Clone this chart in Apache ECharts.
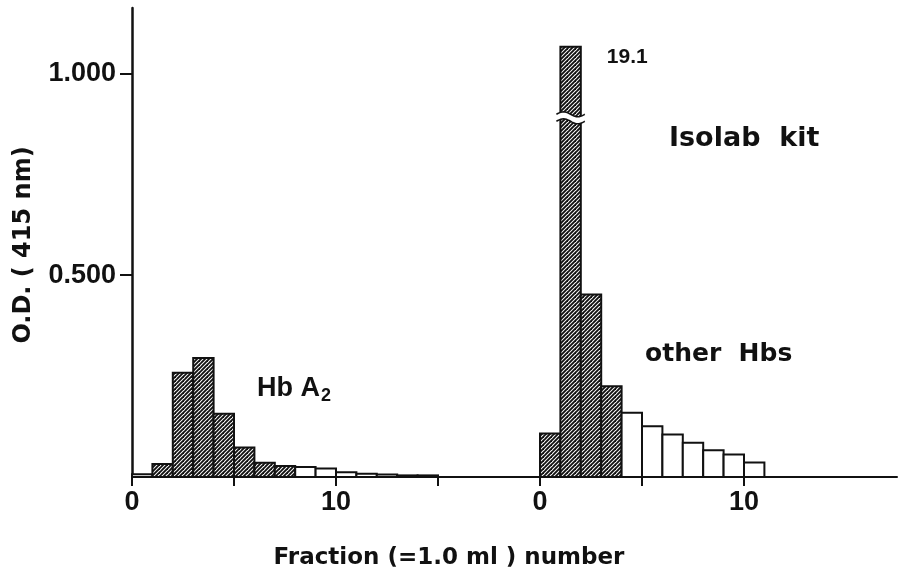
<!DOCTYPE html>
<html>
<head>
<meta charset="utf-8">
<title>Isolab kit fractions</title>
<script src="https://cdn.jsdelivr.net/npm/echarts@6/dist/echarts.min.js"></script>
<style>
  html, body { margin: 0; padding: 0; background: #fff; }
  #chart { width: 898px; height: 577px; }
</style>
</head>
<body>
<div id="chart"></div>
<script>
// O.D. (415 nm) of each 1.0 ml fraction
var hbA2Values  = [0.007, 0.032, 0.258, 0.295, 0.157, 0.073, 0.035, 0.027, 0.025, 0.021, 0.012, 0.008, 0.006, 0.004, 0.004];
var hbA2Shaded  = [0, 1, 1, 1, 1, 1, 1, 1, 0, 0, 0, 0, 0, 0, 0];
var otherValues = [0.108, 19.1, 0.452, 0.225, 0.159, 0.126, 0.105, 0.085, 0.066, 0.056, 0.036];
var otherShaded = [1, 1, 1, 1, 0, 0, 0, 0, 0, 0, 0];

var xTicks  = [0, 5, 10, 15, 20, 25, 30];
var xLabels = [0, 10, 20, 30];
var yTicks  = [0.5, 1.0];

var secondOffset = 20;   // second run is drawn 20 fractions to the right
var cutAt = 1.066;       // bars above the axis top get cut here
var breakAt = 0.89;      // where the break mark sits

var FONT = 'Liberation Sans';
var WIDE = 'DejaVu Sans';
var INK = '#111';

// diagonal hatch for the shaded fractions
var hatch = (function () {
  var c = document.createElement('canvas');
  c.width = 8; c.height = 8;
  var ctx = c.getContext('2d');
  ctx.fillStyle = '#fff';
  ctx.fillRect(0, 0, 8, 8);
  ctx.strokeStyle = INK;
  ctx.lineWidth = 1.9;
  for (var k = -8; k <= 8; k += 4) {
    ctx.beginPath();
    ctx.moveTo(k - 2, 10);
    ctx.lineTo(k + 10, -2);
    ctx.stroke();
  }
  return { image: c, repeat: 'repeat' };
})();

var barData = hbA2Values.map(function (v, i) {
  return [i, v, hbA2Shaded[i]];
}).concat(otherValues.map(function (v, i) {
  return [secondOffset + i, v, otherShaded[i]];
}));

function renderBar(params, api) {
  var x = api.value(0), v = api.value(1), shaded = api.value(2);
  var top = Math.min(v, cutAt);
  var p0 = api.coord([x, 0]);
  var p1 = api.coord([x + 1, top]);
  var kids = [{
    type: 'rect',
    shape: { x: p0[0], y: p1[1], width: p1[0] - p0[0], height: p0[1] - p1[1] },
    style: { fill: shaded ? hatch : '#fff', stroke: INK, lineWidth: 2 }
  }];
  if (v > cutAt) {
    // broken bar: white gap between two wavy lines, real value written beside it
    var yb = api.coord([x, breakAt])[1];
    var xa = p0[0] - 4, xb = p1[0] + 4;
    var upper = [], lower = [];
    for (var i = 0; i <= 20; i++) {
      var px = xa + (xb - xa) * i / 20;
      var dy = 2.5 * Math.sin(Math.PI * 2 * i / 20);
      upper.push([px, yb - 3.5 - dy]);
      lower.push([px, yb + 3.5 - dy]);
    }
    kids.push({ type: 'polygon', shape: { points: upper.concat(lower.slice().reverse()) },
      style: { fill: '#fff' } });
    kids.push({ type: 'polyline', shape: { points: upper }, style: { stroke: INK, lineWidth: 1.5, fill: null } });
    kids.push({ type: 'polyline', shape: { points: lower }, style: { stroke: INK, lineWidth: 1.5, fill: null } });
    kids.push({ type: 'text', style: {
      text: String(v), x: p1[0] + 26, y: p1[1] + 10,
      verticalAlign: 'middle', font: 'bold 21px ' + FONT, fill: INK
    } });
  }
  return { type: 'group', children: kids };
}

var myChart = echarts.init(document.getElementById('chart'));
var option = {
  animation: false,
  backgroundColor: '#fff',
  grid: { left: 132, right: 1, top: 8, bottom: 100 },
  xAxis: {
    type: 'value',
    min: 0,
    max: 37.5,
    splitLine: { show: false },
    axisLine: { lineStyle: { color: INK, width: 2 } },
    axisTick: { show: true, customValues: xTicks, length: 9, lineStyle: { color: INK, width: 2 } },
    axisLabel: {
      customValues: xLabels,
      margin: 12,
      color: INK,
      fontFamily: FONT,
      fontWeight: 'bold',
      fontSize: 27,
      formatter: function (v) { return String(v >= secondOffset ? v - secondOffset : v); }
    }
  },
  yAxis: {
    type: 'value',
    min: 0,
    max: 1.162,
    splitLine: { show: false },
    axisLine: { show: true, lineStyle: { color: INK, width: 2.5 } },
    axisTick: { show: true, customValues: yTicks, length: 12, lineStyle: { color: INK, width: 2 } },
    axisLabel: {
      customValues: yTicks,
      margin: 16,
      color: INK,
      fontFamily: FONT,
      fontWeight: 'bold',
      fontSize: 27,
      formatter: function (v) { return v.toFixed(3); }
    }
  },
  graphic: [
    { type: 'text', x: 24, y: 245, rotation: Math.PI / 2,
      style: { text: 'O.D. ( 415 nm)', align: 'center', verticalAlign: 'middle',
        font: 'bold 24px ' + WIDE, fill: INK } },
    { type: 'text', x: 449, y: 558,
      style: { text: 'Fraction (=1.0 ml ) number', align: 'center', verticalAlign: 'middle',
        font: 'bold 23px ' + WIDE, fill: INK } },
    { type: 'text', x: 257, y: 389,
      style: { rich: { t: { font: 'bold 27px ' + FONT, fill: INK }, s: { font: 'bold 18px ' + FONT, fill: INK, padding: [14, 0, 0, 1] } },
        text: '{t|Hb A}{s|2}', verticalAlign: 'middle' } },
    { type: 'text', x: 645, y: 354,
      style: { text: 'other  Hbs', verticalAlign: 'middle', font: 'bold 25px ' + WIDE, fill: INK } },
    { type: 'text', x: 669, y: 139,
      style: { text: 'Isolab  kit', verticalAlign: 'middle', font: 'bold 27px ' + WIDE, fill: INK } }
  ],
  series: [{
    type: 'custom',
    renderItem: renderBar,
    encode: { x: 0, y: 1 },
    data: barData,
    z: 3
  }]
};
option && myChart.setOption(option);
</script>
</body>
</html>
